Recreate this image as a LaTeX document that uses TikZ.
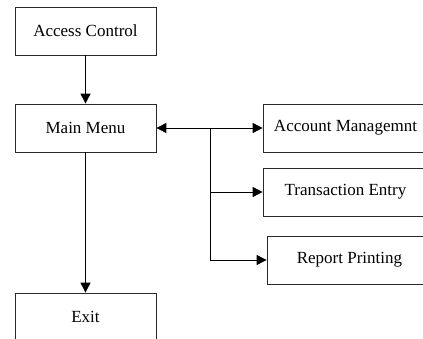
\documentclass[tikz,border=0pt]{standalone}
\usepackage{fontspec}
\setmainfont{Liberation Serif}
\usepackage{xcolor}
\usetikzlibrary{arrows.meta,positioning}
\definecolor{ink}{HTML}{000000}
\definecolor{frame}{HTML}{2A2A2A}

\begin{document}
\begin{tikzpicture}[
  x=1pt,y=1pt,font=\fontsize{17}{20}\selectfont,
  box/.style={draw=frame,line width=.8pt,minimum height=48pt,inner sep=0pt,
              align=center,text=ink},
  mainbox/.style={box,minimum width=141pt},
  sidebox/.style={box,minimum width=165pt},
  link/.style={line width=.9pt,draw=ink},
  flow/.style={link,-{Triangle[length=10pt,width=10pt]}},
  both/.style={link,{Triangle[length=10pt,width=10pt]}-{Triangle[length=10pt,width=10pt]}}
]
\clip (0,0) rectangle (423,338);

% 1. Main column.
\node[mainbox] (access) at (85.5,307) {Access Control};
\node[mainbox] (menu)   at (85.5,210) {Main Menu};
\node[mainbox] (exit)   at (85.5,21)  {Exit};

% 2. Sub-menus on the right.
\node[sidebox] (account) at (345.5,210) {Account Managemnt};
\node[sidebox] (trans)   at (345.5,146) {Transaction Entry};
\node[sidebox] (report)  at (349.5,78)  {Report Printing};

% 3. Connectors.
\coordinate (split) at (210,210);
\draw[flow] (access) -- (menu);
\draw[flow] (menu) -- (exit);
\draw[both] (menu) -- (account);
\draw[flow] (split |- trans.west) -- (trans.west);
\draw[flow] (split) |- (report.west);

\end{tikzpicture}
\end{document}
